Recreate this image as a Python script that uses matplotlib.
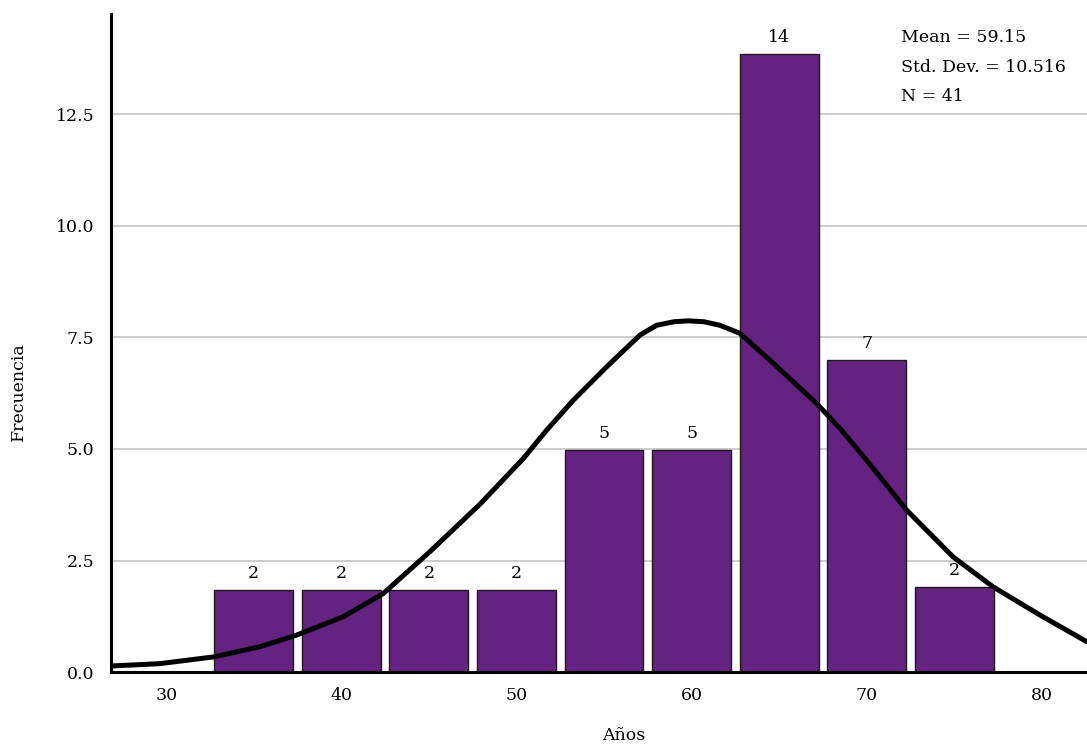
import numpy as np
import matplotlib
matplotlib.use("Agg")
import matplotlib.pyplot as plt

plt.rcParams['font.family'] = ['DejaVu Serif']

# histogram bins (centres) and bar heights as drawn
bin_centers = [35, 40, 45, 50, 55, 60, 65, 70, 75]
bar_heights = [1.84, 1.84, 1.84, 1.84, 4.98, 4.98, 13.85, 6.99, 1.90]
bar_labels = ['2', '2', '2', '2', '5', '5', '14', '7', '2']

# fitted normal curve
curve_x = [26.97, 29.63, 32.68, 35.35, 37.44, 40.10, 42.39, 45.06, 47.91,
           50.38, 51.72, 53.24, 55.15, 57.05, 58.0, 59.0, 59.81, 60.7, 61.62,
           62.76, 64.66, 67.14, 68.47, 69.99, 72.28, 74.94, 77.22, 79.89,
           82.58]
curve_y = [0.14, 0.19, 0.34, 0.57, 0.83, 1.24, 1.76, 2.70, 3.76,
           4.78, 5.42, 6.09, 6.84, 7.55, 7.77, 7.85, 7.87, 7.85, 7.77,
           7.59, 6.92, 6.02, 5.46, 4.75, 3.63, 2.58, 1.91, 1.28,
           0.68]

xticks = [30, 40, 50, 60, 70, 80]
yticks = [0.0, 2.5, 5.0, 7.5, 10.0, 12.5]

stats = ["Mean = 59.15", "Std. Dev. = 10.516", "N = 41"]

fig = plt.figure(figsize=(10.87, 7.46), dpi=100)
ax = fig.add_axes([0.102, 0.099, 0.898, 0.882])

ax.bar(bin_centers, bar_heights, width=4.5, color='#652381',
       edgecolor='#1a1a1a', linewidth=1.0, zorder=2)
for xc, h, lab in zip(bin_centers, bar_heights, bar_labels):
    ax.text(xc, h + 0.18, lab, ha='center', va='bottom', fontsize=12.5)

ax.plot(curve_x, curve_y, color='black', linewidth=3.6, zorder=3,
        solid_joinstyle='round', solid_capstyle='round')

ax.set_xlim(26.84, 82.58)
ax.set_ylim(0, 14.74)
ax.set_xticks(xticks)
ax.set_yticks(yticks)
ax.set_yticklabels([f"{v:.1f}" for v in yticks])
ax.tick_params(length=0, labelsize=12.5)
ax.tick_params(axis='x', pad=11)
ax.tick_params(axis='y', pad=12)

ax.grid(axis='y', color='#c8c8c8', linewidth=1.3, zorder=0)
ax.set_axisbelow(True)
for side in ['top', 'right']:
    ax.spines[side].set_visible(False)
for side in ['left', 'bottom']:
    ax.spines[side].set_linewidth(2.2)
    ax.spines[side].set_color('black')

fig.text(624 / 1087, 1 - 736 / 746, "Años", fontsize=12.5,
         ha='center', va='center')
fig.text(18 / 1087, 1 - 392 / 746, "Frecuencia", fontsize=12.5,
         ha='center', va='center', rotation=90)

for i, s in enumerate(stats):
    fig.text(0.829, 0.950 - i * 0.040, s, fontsize=12.5, va='center')

fig.savefig("out.png", dpi=100)
